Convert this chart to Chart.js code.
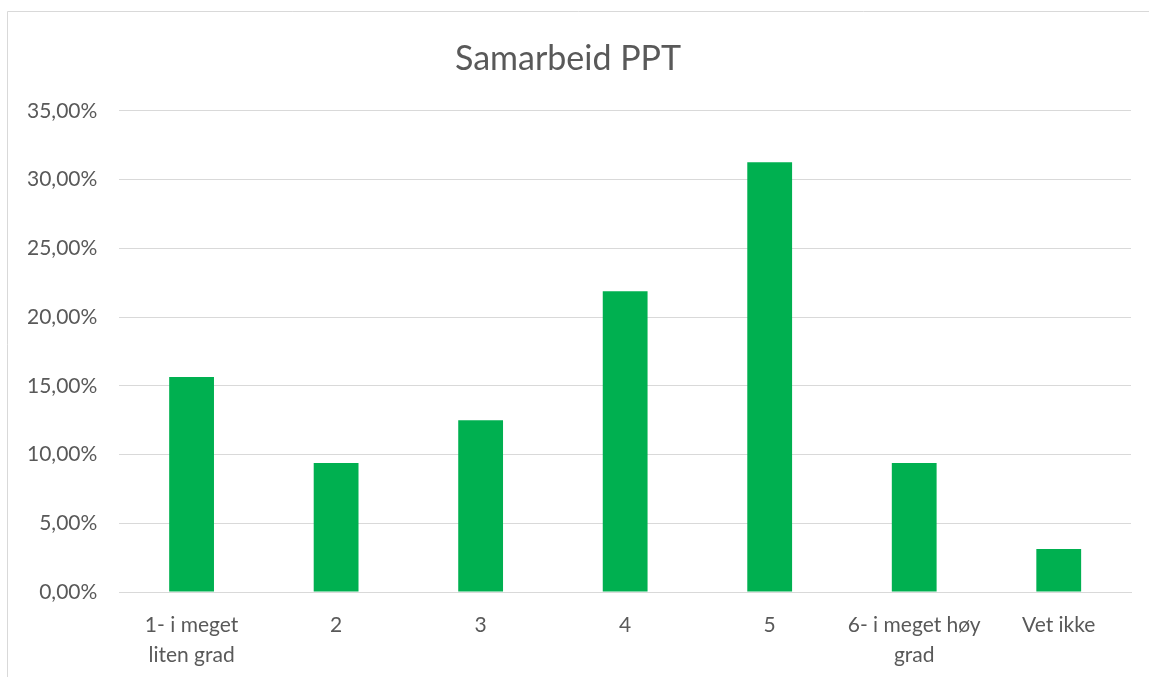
<!DOCTYPE html>
<html>
<head>
<meta charset="utf-8">
<script src="https://cdn.jsdelivr.net/npm/chart.js@4"></script>
<style>
  html, body { margin: 0; padding: 0; background: #fff; overflow: hidden; }
  #wrap { width: 1149px; height: 677px; position: relative; }
</style>
</head>
<body>
<div id="wrap"><canvas id="grafica"></canvas></div>
<script>
// categorias (eje X) y valores en %
const kategorier = [["1- i meget", "liten grad"], "2", "3", "4", "5", ["6- i meget høy", "grad"], "Vet ikke"];
const andeler = [15.63, 9.38, 12.5, 21.88, 31.25, 9.38, 3.13];
const yTicks = [0, 5, 10, 15, 20, 25, 30, 35];

const tekstFarge = '#595959';
const gridFarge = '#d9d9d9';

// ramme rundt diagrammet (venstre og topp)
const ramme = {
  id: 'ramme',
  beforeDraw(chart) {
    const ctx = chart.ctx;
    ctx.save();
    ctx.fillStyle = '#fff';
    ctx.fillRect(0, 0, chart.width, chart.height);
    ctx.strokeStyle = gridFarge;
    ctx.lineWidth = 1;
    ctx.beginPath();
    ctx.moveTo(7.5, chart.height);
    ctx.lineTo(7.5, 11.5);
    ctx.lineTo(chart.width, 11.5);
    ctx.stroke();
    ctx.restore();
  }
};

new Chart(document.getElementById('grafica'), {
  type: 'bar',
  data: {
    labels: kategorier,
    datasets: [{
      label: 'Samarbeid PPT',
      data: andeler,
      backgroundColor: '#00b050',
      categoryPercentage: 1,
      barPercentage: 0.31
    }]
  },
  options: {
    responsive: true,
    maintainAspectRatio: false,
    animation: false,
    layout: { padding: { top: 39, left: 5, right: 18, bottom: 0 } },
    plugins: {
      legend: { display: false },
      tooltip: { enabled: false },
      title: {
        display: true,
        text: 'Samarbeid PPT',
        color: tekstFarge,
        font: { family: 'Lato', size: 34, weight: 'normal' },
        padding: { top: 0, bottom: 31 }
      }
    },
    scales: {
      x: {
        grid: { display: false, drawTicks: false },
        border: { color: gridFarge },
        afterFit(axis) { axis.height = 85; },
        ticks: {
          color: tekstFarge,
          font: { family: 'Lato', size: 21, lineHeight: 1.43 },
          padding: 18,
          maxRotation: 0,
          autoSkip: false
        }
      },
      y: {
        min: 0,
        max: 35,
        afterBuildTicks(axis) { axis.ticks = yTicks.map(v => ({ value: v })); },
        grid: { color: gridFarge, drawTicks: false },
        border: { display: false },
        ticks: {
          color: tekstFarge,
          font: { family: 'Lato', size: 21 },
          padding: 22,
          callback: v => v.toFixed(2).replace('.', ',') + '%'
        }
      }
    }
  },
  plugins: [ramme]
});
</script>
</body>
</html>
